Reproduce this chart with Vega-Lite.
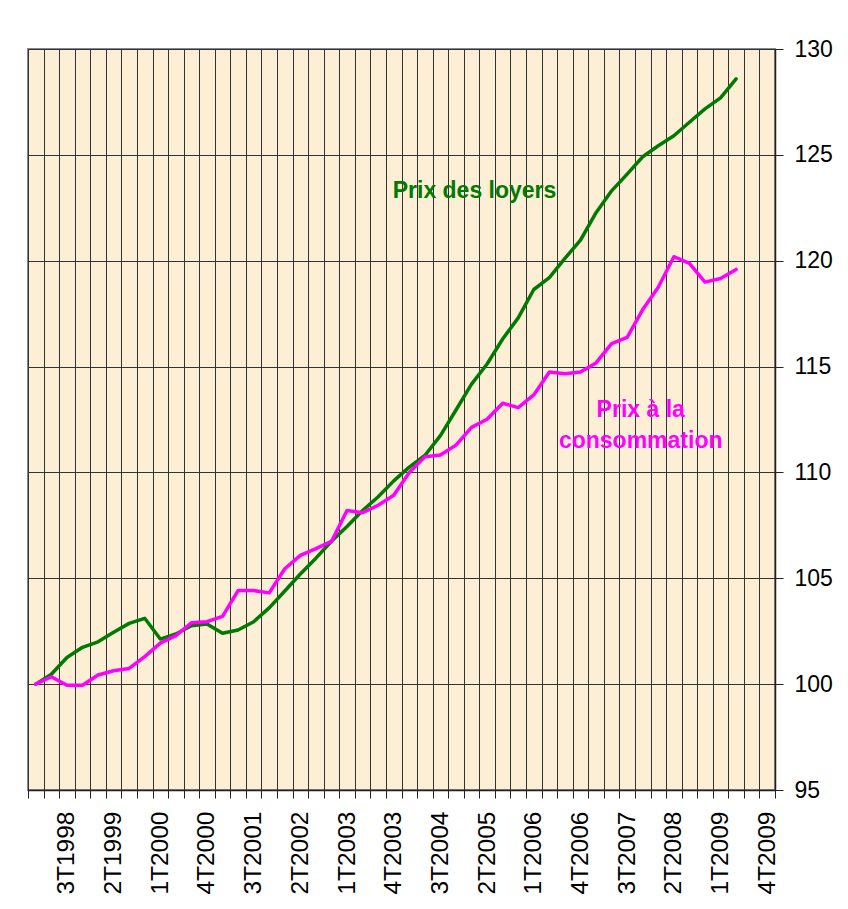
{
  "$schema": "https://vega.github.io/schema/vega-lite/v6.json",
  "width": 747,
  "height": 741,
  "autosize": {"type": "none"},
  "padding": {"left": 28, "top": 49, "right": 73, "bottom": 119},
  "background": "white",
  "config": {
    "view": {"fill": "#FCEFD6", "stroke": "#888888", "strokeWidth": 2},
    "font": "Liberation Sans"
  },
  "datasets": {
    "series": [
      {"q": "1T1998", "s": "loyers", "v": 100.0}, {"q": "2T1998", "s": "loyers", "v": 100.47}, {"q": "3T1998", "s": "loyers", "v": 101.26}, {"q": "4T1998", "s": "loyers", "v": 101.74},
      {"q": "1T1999", "s": "loyers", "v": 102.0}, {"q": "2T1999", "s": "loyers", "v": 102.45}, {"q": "3T1999", "s": "loyers", "v": 102.87}, {"q": "4T1999", "s": "loyers", "v": 103.11},
      {"q": "1T2000", "s": "loyers", "v": 102.13}, {"q": "2T2000", "s": "loyers", "v": 102.37}, {"q": "3T2000", "s": "loyers", "v": 102.76}, {"q": "4T2000", "s": "loyers", "v": 102.84},
      {"q": "1T2001", "s": "loyers", "v": 102.4}, {"q": "2T2001", "s": "loyers", "v": 102.56}, {"q": "3T2001", "s": "loyers", "v": 102.95}, {"q": "4T2001", "s": "loyers", "v": 103.6},
      {"q": "1T2002", "s": "loyers", "v": 104.4}, {"q": "2T2002", "s": "loyers", "v": 105.2}, {"q": "3T2002", "s": "loyers", "v": 105.95}, {"q": "4T2002", "s": "loyers", "v": 106.75},
      {"q": "1T2003", "s": "loyers", "v": 107.45}, {"q": "2T2003", "s": "loyers", "v": 108.2}, {"q": "3T2003", "s": "loyers", "v": 108.85}, {"q": "4T2003", "s": "loyers", "v": 109.6},
      {"q": "1T2004", "s": "loyers", "v": 110.25}, {"q": "2T2004", "s": "loyers", "v": 110.8}, {"q": "3T2004", "s": "loyers", "v": 111.74}, {"q": "4T2004", "s": "loyers", "v": 112.95},
      {"q": "1T2005", "s": "loyers", "v": 114.17}, {"q": "2T2005", "s": "loyers", "v": 115.12}, {"q": "3T2005", "s": "loyers", "v": 116.3}, {"q": "4T2005", "s": "loyers", "v": 117.3},
      {"q": "1T2006", "s": "loyers", "v": 118.64}, {"q": "2T2006", "s": "loyers", "v": 119.2}, {"q": "3T2006", "s": "loyers", "v": 120.11}, {"q": "4T2006", "s": "loyers", "v": 120.97},
      {"q": "1T2007", "s": "loyers", "v": 122.27}, {"q": "2T2007", "s": "loyers", "v": 123.3}, {"q": "3T2007", "s": "loyers", "v": 124.09}, {"q": "4T2007", "s": "loyers", "v": 124.91},
      {"q": "1T2008", "s": "loyers", "v": 125.43}, {"q": "2T2008", "s": "loyers", "v": 125.9}, {"q": "3T2008", "s": "loyers", "v": 126.54}, {"q": "4T2008", "s": "loyers", "v": 127.17},
      {"q": "1T2009", "s": "loyers", "v": 127.69}, {"q": "2T2009", "s": "loyers", "v": 128.59},
      {"q": "1T1998", "s": "conso", "v": 100.0}, {"q": "2T1998", "s": "conso", "v": 100.35}, {"q": "3T1998", "s": "conso", "v": 99.95}, {"q": "4T1998", "s": "conso", "v": 99.95},
      {"q": "1T1999", "s": "conso", "v": 100.43}, {"q": "2T1999", "s": "conso", "v": 100.63}, {"q": "3T1999", "s": "conso", "v": 100.74}, {"q": "4T1999", "s": "conso", "v": 101.3},
      {"q": "1T2000", "s": "conso", "v": 101.94}, {"q": "2T2000", "s": "conso", "v": 102.29}, {"q": "3T2000", "s": "conso", "v": 102.9}, {"q": "4T2000", "s": "conso", "v": 102.95},
      {"q": "1T2001", "s": "conso", "v": 103.2}, {"q": "2T2001", "s": "conso", "v": 104.42}, {"q": "3T2001", "s": "conso", "v": 104.42}, {"q": "4T2001", "s": "conso", "v": 104.31},
      {"q": "1T2002", "s": "conso", "v": 105.45}, {"q": "2T2002", "s": "conso", "v": 106.08}, {"q": "3T2002", "s": "conso", "v": 106.4}, {"q": "4T2002", "s": "conso", "v": 106.74},
      {"q": "1T2003", "s": "conso", "v": 108.2}, {"q": "2T2003", "s": "conso", "v": 108.1}, {"q": "3T2003", "s": "conso", "v": 108.45}, {"q": "4T2003", "s": "conso", "v": 108.92},
      {"q": "1T2004", "s": "conso", "v": 110.0}, {"q": "2T2004", "s": "conso", "v": 110.74}, {"q": "3T2004", "s": "conso", "v": 110.82}, {"q": "4T2004", "s": "conso", "v": 111.29},
      {"q": "1T2005", "s": "conso", "v": 112.13}, {"q": "2T2005", "s": "conso", "v": 112.51}, {"q": "3T2005", "s": "conso", "v": 113.27}, {"q": "4T2005", "s": "conso", "v": 113.06},
      {"q": "1T2006", "s": "conso", "v": 113.66}, {"q": "2T2006", "s": "conso", "v": 114.74}, {"q": "3T2006", "s": "conso", "v": 114.66}, {"q": "4T2006", "s": "conso", "v": 114.74},
      {"q": "1T2007", "s": "conso", "v": 115.17}, {"q": "2T2007", "s": "conso", "v": 116.08}, {"q": "3T2007", "s": "conso", "v": 116.38}, {"q": "4T2007", "s": "conso", "v": 117.69},
      {"q": "1T2008", "s": "conso", "v": 118.75}, {"q": "2T2008", "s": "conso", "v": 120.19}, {"q": "3T2008", "s": "conso", "v": 119.87}, {"q": "4T2008", "s": "conso", "v": 118.99},
      {"q": "1T2009", "s": "conso", "v": 119.16}, {"q": "2T2009", "s": "conso", "v": 119.59}
    ],
    "labelLoyers": [
      {"q": "1T2005", "v": 123.3, "s": "loyers", "t": ["Prix des loyers"]}
    ],
    "labelConso": [
      {"q": "4T2007", "v": 112.95, "s": "conso", "t": ["Prix à la", "consommation"]}
    ]
  },
  "encoding": {
    "x": {
      "field": "q", "type": "ordinal", "sort": null,
      "scale": {"type": "band", "paddingInner": 0, "paddingOuter": 0,
        "domain": ["1T1998","2T1998","3T1998","4T1998","1T1999","2T1999","3T1999","4T1999","1T2000","2T2000","3T2000","4T2000","1T2001","2T2001","3T2001","4T2001","1T2002","2T2002","3T2002","4T2002","1T2003","2T2003","3T2003","4T2003","1T2004","2T2004","3T2004","4T2004","1T2005","2T2005","3T2005","4T2005","1T2006","2T2006","3T2006","4T2006","1T2007","2T2007","3T2007","4T2007","1T2008","2T2008","3T2008","4T2008","1T2009","2T2009","3T2009","4T2009"]},
      "axis": {
        "title": null, "orient": "bottom", "tickBand": "extent",
        "grid": true, "gridColor": "#333333", "gridWidth": 1, "gridOpacity": 1,
        "domainColor": "#222222", "domainWidth": 1.5,
        "ticks": true, "tickSize": 8, "tickColor": "#222222", "tickWidth": 1,
        "labelAngle": -90, "labelFontSize": 24.5, "labelColor": "#000000", "labelPadding": 13,
        "labelFont": "Liberation Sans", "labelOverlap": false, "labelBound": false,
        "labelExpr": "((toNumber(substring(datum.value,2,6))*4 + toNumber(substring(datum.value,0,1))) % 3 == 0) ? datum.value : ''"
      }
    },
    "y": {
      "field": "v", "type": "quantitative",
      "scale": {"domain": [95, 130], "nice": false, "zero": false},
      "axis": {
        "title": null, "orient": "right", "values": [95,100,105,110,115,120,125,130],
        "grid": true, "gridColor": "#333333", "gridWidth": 1, "gridOpacity": 1,
        "domainColor": "#222222", "domainWidth": 1.5,
        "tickSize": 8, "tickColor": "#222222", "tickWidth": 1,
        "labelFontSize": 23, "labelColor": "#000000", "labelPadding": 11,
        "labelFont": "Liberation Sans", "labelBaseline": "middle"
      }
    },
    "color": {
      "field": "s", "type": "nominal", "legend": null,
      "scale": {"domain": ["loyers", "conso"], "range": ["#007A00", "#FF00FF"]}
    }
  },
  "layer": [
    {
      "data": {"name": "series"},
      "mark": {"type": "line", "strokeWidth": 3.5, "strokeJoin": "round", "strokeCap": "round"}
    },
    {
      "data": {"name": "labelLoyers"},
      "mark": {"type": "text", "font": "Liberation Sans", "fontWeight": "bold", "fontSize": 23, "align": "center", "baseline": "middle", "lineHeight": 31, "dx": 3},
      "encoding": {"text": {"field": "t"}}
    },
    {
      "data": {"name": "labelConso"},
      "mark": {"type": "text", "font": "Liberation Sans", "fontWeight": "bold", "fontSize": 23, "align": "center", "baseline": "middle", "lineHeight": 31, "dx": -2},
      "encoding": {"text": {"field": "t"}}
    }
  ]
}
